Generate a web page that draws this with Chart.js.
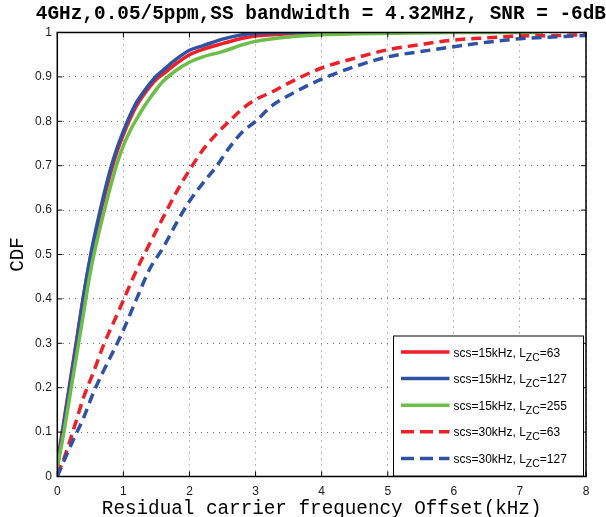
<!DOCTYPE html>
<html>
<head>
<meta charset="utf-8">
<script src="https://cdn.jsdelivr.net/npm/chart.js@4.4.1/dist/chart.umd.min.js"></script>
<style>
  html, body { margin: 0; padding: 0; background: #fff; }
  #wrap { width: 606px; height: 517px; }
</style>
</head>
<body>
<div id="wrap"><canvas id="cdf" width="606" height="517"></canvas></div>
<script>
// residual offset (kHz) sample points
const offsetSolid  = [0, 0.1, 0.2, 0.3, 0.4, 0.5, 0.6, 0.7, 0.8, 0.9, 1.0, 1.1, 1.2, 1.3, 1.4, 1.5, 1.6, 1.8, 2.0, 2.2, 2.5, 2.8, 3.0, 3.5, 4.0, 4.5, 5.0, 6.0, 7.35];
const offsetDashed = [0, 0.1, 0.25, 0.4, 0.55, 0.7, 0.9, 1.0, 1.2, 1.4, 1.6, 1.8, 2.0, 2.2, 2.4, 2.6, 2.8, 3.0, 3.25, 3.5, 4.0, 4.5, 5.0, 5.5, 6.0, 6.5, 7.0, 7.5, 8.0];

// CDF values
const cdf15k63  = [0.03, 0.125, 0.22, 0.315, 0.41, 0.492, 0.56, 0.622, 0.68, 0.73, 0.77, 0.805, 0.835, 0.858, 0.878, 0.895, 0.906, 0.93, 0.95, 0.962, 0.975, 0.987, 0.992, 0.997, 0.999, 1.0, 1.0];
const cdf15k127 = [0.02, 0.12, 0.215, 0.31, 0.41, 0.495, 0.567, 0.632, 0.69, 0.738, 0.778, 0.813, 0.843, 0.865, 0.885, 0.902, 0.915, 0.94, 0.96, 0.97, 0.985, 0.995, 0.998, 1.0, 1.0, 1.0];
const cdf15k255 = [0.02, 0.10, 0.19, 0.28, 0.37, 0.46, 0.53, 0.592, 0.65, 0.703, 0.745, 0.778, 0.805, 0.83, 0.852, 0.872, 0.89, 0.915, 0.933, 0.945, 0.957, 0.972, 0.98, 0.99, 0.995, 0.997, 0.998, 1.0, 1.0];
const cdf30k63  = [0.005, 0.04, 0.108, 0.179, 0.236, 0.296, 0.363, 0.397, 0.465, 0.525, 0.583, 0.64, 0.69, 0.735, 0.77, 0.80, 0.828, 0.849, 0.866, 0.886, 0.92, 0.942, 0.961, 0.973, 0.983, 0.988, 0.992, 0.993, 0.995];
const cdf30k127 = [0.0, 0.035, 0.085, 0.133, 0.19, 0.238, 0.298, 0.33, 0.40, 0.468, 0.515, 0.57, 0.62, 0.66, 0.697, 0.74, 0.776, 0.80, 0.835, 0.858, 0.895, 0.923, 0.945, 0.957, 0.968, 0.978, 0.986, 0.99, 0.993];

// legend text pieces
const scsValues = ['15', '15', '15', '30', '30'];
const lzcValues = ['63', '127', '255', '63', '127'];

const xTicks = [0, 1, 2, 3, 4, 5, 6, 7, 8];
const yTicks = [0, 0.1, 0.2, 0.3, 0.4, 0.5, 0.6, 0.7, 0.8, 0.9, 1];

const RED = 'rgb(236,32,40)';
const BLUE = 'rgb(48,82,164)';
const GREEN = 'rgb(108,190,72)';

const toPoints = (xs, ys) => ys.map((y, i) => ({ x: xs[i], y: y }));

const seriesDefs = [
  { xs: offsetSolid,  ys: cdf15k63,  color: RED,   dash: [] },
  { xs: offsetSolid,  ys: cdf15k127, color: BLUE,  dash: [] },
  { xs: offsetSolid,  ys: cdf15k255, color: GREEN, dash: [] },
  { xs: offsetDashed, ys: cdf30k63,  color: RED,   dash: [10, 6] },
  { xs: offsetDashed, ys: cdf30k127, color: BLUE,  dash: [10, 6] },
];

const datasets = seriesDefs.map((s, i) => ({
  label: 'scs=' + scsValues[i] + 'kHz, L_ZC=' + lzcValues[i],
  data: toPoints(s.xs, s.ys),
  borderColor: s.color,
  backgroundColor: s.color,
  borderWidth: 3.5,
  borderDash: s.dash,
  pointRadius: 0,
  cubicInterpolationMode: 'monotone',
  fill: false,
  order: seriesDefs.length - i,   // later series on top, like matlab
}));

// box round the axes, inward ticks and the legend with subscripts
const matlabAxes = {
  id: 'matlabAxes',
  afterDraw(chart) {
    const { ctx, chartArea: a, scales } = chart;
    ctx.save();
    ctx.strokeStyle = '#000';
    ctx.lineWidth = 1;
    ctx.setLineDash([]);
    ctx.beginPath();
    xTicks.forEach(v => {
      const px = scales.x.getPixelForValue(v);
      ctx.moveTo(px, a.bottom); ctx.lineTo(px, a.bottom - 5);
      ctx.moveTo(px, a.top); ctx.lineTo(px, a.top + 5);
    });
    yTicks.forEach(v => {
      const py = scales.y.getPixelForValue(v);
      ctx.moveTo(a.left, py); ctx.lineTo(a.left + 5, py);
      ctx.moveTo(a.right, py); ctx.lineTo(a.right - 5, py);
    });
    ctx.stroke();
    ctx.lineWidth = 1.5;
    ctx.strokeRect(a.left, a.top, a.right - a.left, a.bottom - a.top);

    // legend
    const bw = 190, bh = 140;
    const bx = a.right - 2.5 - bw, by = a.bottom - 0.5 - bh;
    ctx.fillStyle = '#fff';
    ctx.fillRect(bx, by, bw, bh);
    ctx.lineWidth = 1;
    ctx.strokeRect(bx, by, bw, bh);

    chart.data.datasets.forEach((ds, i) => {
      const cy = by + 16 + i * 26.6;
      ctx.strokeStyle = ds.borderColor;
      ctx.lineWidth = 3.5;
      ctx.setLineDash(ds.borderDash.length ? [13, 6] : []);
      ctx.beginPath();
      ctx.moveTo(bx + 7.5, cy);
      ctx.lineTo(bx + 56, cy);
      ctx.stroke();
      ctx.setLineDash([]);

      ctx.fillStyle = '#000';
      ctx.textBaseline = 'alphabetic';
      ctx.textAlign = 'left';
      let tx = bx + 60;
      const base = cy + 4.5;
      const head = 'scs=' + scsValues[i] + 'kHz, L';
      ctx.font = '12px "Liberation Sans", Arial, sans-serif';
      ctx.fillText(head, tx, base);
      tx += ctx.measureText(head).width;
      ctx.font = '10.5px "Liberation Sans", Arial, sans-serif';
      ctx.fillText('ZC', tx, base + 4);
      tx += ctx.measureText('ZC').width;
      ctx.font = '12px "Liberation Sans", Arial, sans-serif';
      ctx.fillText('=' + lzcValues[i], tx, base);
    });
    ctx.restore();
  }
};

const monoFont = '"Liberation Mono", "Courier New", monospace';
const tickFont = { family: '"Liberation Sans", Arial, sans-serif', size: 12 };

new Chart(document.getElementById('cdf'), {
  type: 'line',
  data: { datasets: datasets },
  plugins: [matlabAxes],
  options: {
    responsive: false,
    devicePixelRatio: 1,
    animation: false,
    layout: { padding: 0 },
    plugins: {
      legend: { display: false },
      tooltip: { enabled: false },
      title: {
        display: true,
        align: 'end',
        text: '4GHz,0.05/5ppm,SS bandwidth = 4.32MHz, SNR = -6dB',
        color: '#000',
        font: { family: monoFont, size: 19.4, weight: 'bold', lineHeight: 1.2 },
        padding: { top: 2, bottom: 7.2 },
      },
    },
    scales: {
      x: {
        type: 'linear',
        min: 0,
        max: 8,
        afterFit(scale) { scale.height = 40.5; },
        afterBuildTicks(scale) { scale.ticks = xTicks.map(v => ({ value: v })); },
        ticks: { font: tickFont, color: '#1a1a1a', padding: 8, maxRotation: 0 },
        grid: { color: 'rgba(0,0,0,0.55)', lineWidth: 1, drawTicks: false },
        border: { display: false, dash: [1, 5] },
        title: {
          display: true,
          text: 'Residual carrier frequency Offset(kHz)',
          color: '#000',
          font: { family: monoFont, size: 19.3, lineHeight: 1 },
          padding: { top: 0, bottom: -2 },
        },
      },
      y: {
        type: 'linear',
        min: 0,
        max: 1,
        afterFit(scale) { scale.width = 57.3; },
        afterBuildTicks(scale) { scale.ticks = yTicks.map(v => ({ value: v })); },
        ticks: { font: tickFont, color: '#1a1a1a', padding: 5.5, callback: v => String(v) },
        grid: { color: 'rgba(0,0,0,0.55)', lineWidth: 1, drawTicks: false },
        border: { display: false, dash: [1, 5] },
        title: {
          display: true,
          text: 'CDF',
          color: '#000',
          font: { family: monoFont, size: 19.3, lineHeight: 1 },
          padding: { top: 8.3, bottom: 0 },
        },
      },
      // empty strip on the right so the title can run past the axes
      gutter: {
        type: 'linear',
        position: 'right',
        min: 0,
        max: 1,
        afterFit(scale) { scale.width = 20; },
        ticks: { display: false },
        grid: { display: false },
        border: { display: false },
      },
    },
  },
});
</script>
</body>
</html>
